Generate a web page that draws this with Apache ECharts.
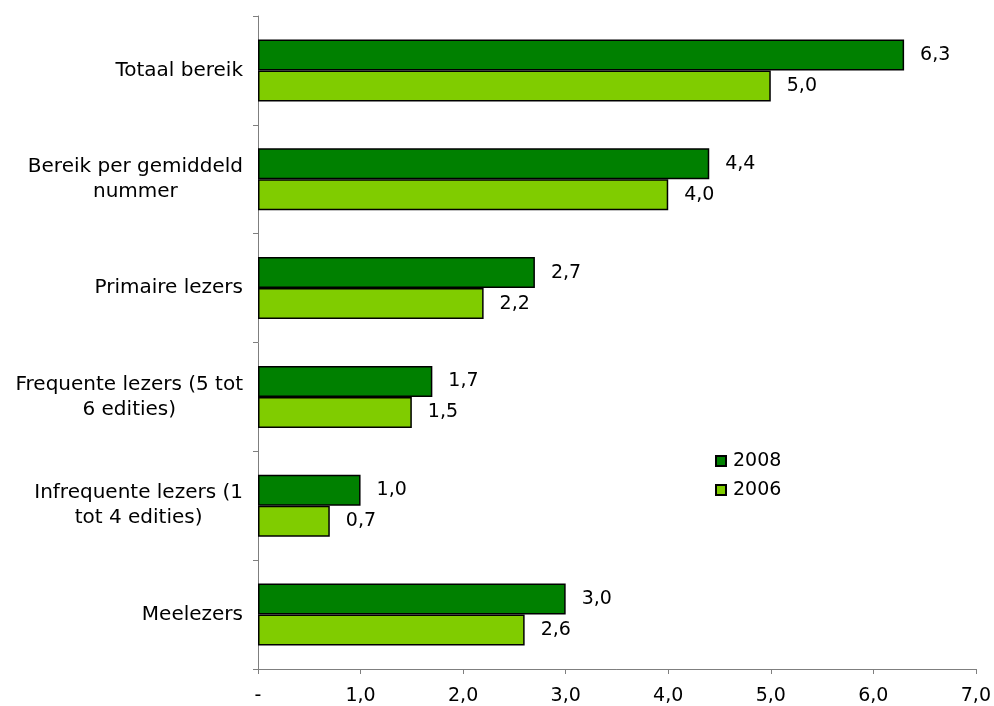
<!DOCTYPE html>
<html>
<head>
<meta charset="utf-8">
<script src="https://cdn.jsdelivr.net/npm/echarts@6/dist/echarts.min.js"></script>
<style>
  html, body { margin: 0; padding: 0; background: #fff; }
  #chart { width: 994px; height: 706px; }
</style>
</head>
<body>
<div id="chart"></div>
<script>
// Reader categories, top to bottom
const categories = [
  'Totaal bereik',
  'Bereik per gemiddeld\nnummer',
  'Primaire lezers',
  'Frequente lezers (5 tot\n6 edities)',
  'Infrequente lezers (1\ntot 4 edities)',
  'Meelezers'
];
const seriesNames = ['2008', '2006'];
const values2008 = [6.3, 4.4, 2.7, 1.7, 1.0, 3.0];
const values2006 = [5.0, 4.0, 2.2, 1.5, 0.7, 2.6];
const xTicks = { min: 0, max: 7, interval: 1 };

const FONT = '"DejaVu Sans", Verdana, sans-serif';
const FS_CAT = 20;
const FS = 19;
const fmtComma = v => v.toFixed(1).replace('.', ',');

const chart = echarts.init(document.getElementById('chart'));

// Multi-line category labels: block right-aligned to the axis, lines centred inside it
function catLabel(value) {
  return value.split('\n').map(l => '{c|' + l + '}').join('\n');
}

const barLabel = {
  show: true,
  position: 'right',
  distance: 16,
  color: '#000',
  fontFamily: FONT,
  fontSize: FS,
  formatter: p => fmtComma(p.value)
};

chart.setOption({
  backgroundColor: '#fff',
  animation: false,
  grid: { left: 258, right: 17, top: 16, bottom: 36, containLabel: false },
  legend: {
    orient: 'vertical',
    left: 715,
    top: 451,
    padding: 0,
    itemWidth: 10,
    itemHeight: 10,
    itemGap: 9,
    icon: 'rect',
    textStyle: { fontFamily: FONT, fontSize: FS, color: '#000', lineHeight: 20, padding: [0, 0, 0, 2] },
    data: seriesNames
  },
  xAxis: {
    type: 'value',
    min: xTicks.min,
    max: xTicks.max,
    interval: xTicks.interval,
    splitLine: { show: false },
    axisLine: { show: true, lineStyle: { color: '#7f7f7f', width: 1 } },
    axisTick: { show: true, length: 5, lineStyle: { color: '#7f7f7f' } },
    axisLabel: {
      margin: 18,
      fontFamily: FONT,
      fontSize: FS,
      color: '#000',
      formatter: v => (v === 0 ? '-' : fmtComma(v))
    }
  },
  yAxis: {
    type: 'category',
    inverse: true,
    data: categories,
    axisLine: { show: true, lineStyle: { color: '#7f7f7f', width: 1 } },
    axisTick: { show: true, length: 5, lineStyle: { color: '#7f7f7f' } },
    axisLabel: {
      margin: 15,
      fontFamily: FONT,
      fontSize: FS_CAT,
      color: '#000',
      align: 'right',
      formatter: catLabel,
      rich: {
        c: { align: 'center', fontFamily: FONT, fontSize: FS_CAT, color: '#000', lineHeight: 25 }
      }
    }
  },
  series: [
    {
      name: seriesNames[0],
      type: 'bar',
      data: values2008,
      barGap: '0%',
      barCategoryGap: '43%',
      itemStyle: { color: '#008000', borderColor: '#000', borderWidth: 1.5 },
      label: barLabel
    },
    {
      name: seriesNames[1],
      type: 'bar',
      data: values2006,
      itemStyle: { color: '#80cc00', borderColor: '#000', borderWidth: 1.5 },
      label: barLabel
    }
  ]
});
</script>
</body>
</html>
